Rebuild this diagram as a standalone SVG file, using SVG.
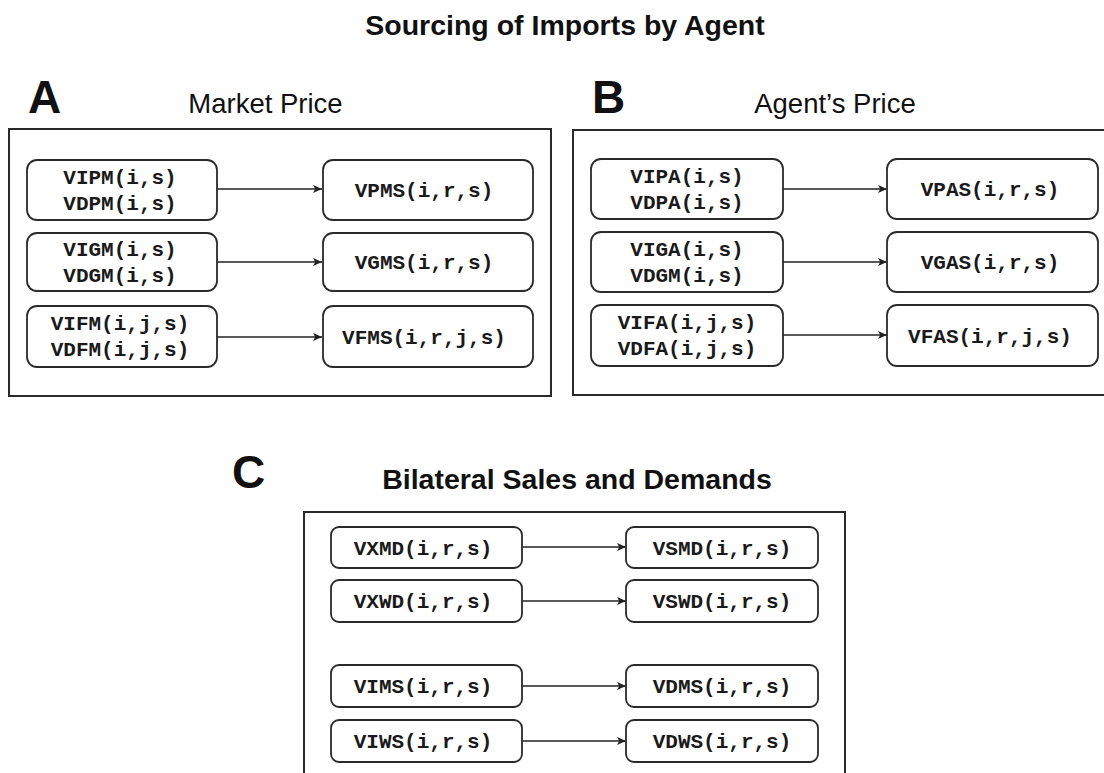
<svg xmlns="http://www.w3.org/2000/svg" width="1104" height="773" viewBox="0 0 1104 773">
<style>
.panel{fill:#fff;stroke:#2a2a2a;stroke-width:2}
.node{fill:#fff;stroke:#2a2a2a;stroke-width:1.8}
.t{font-family:"Liberation Mono","Courier New",monospace;font-weight:bold;font-size:21px;fill:#1a1a1a;text-anchor:middle}
.h{font-family:"Liberation Sans",Arial,sans-serif;fill:#111}
.edge{stroke:#222;stroke-width:1.6;fill:none;marker-end:url(#ah)}
</style>
<defs>
<marker id="ah" viewBox="0 0 10 10" refX="10" refY="5" markerWidth="10" markerHeight="9" markerUnits="userSpaceOnUse" orient="auto"><path d="M0,0.5 L10,5 L0,9.5 L2.5,5 z" fill="#222"/></marker>
</defs>
<rect width="1104" height="773" fill="#fff"/>
<text class="h" x="565" y="35" font-size="28.5" font-weight="bold" text-anchor="middle">Sourcing of Imports by Agent</text>
<text class="h" x="28" y="113" font-size="46" font-weight="bold">A</text>
<text class="h" x="265.5" y="113" font-size="27.5" text-anchor="middle">Market Price</text>
<text class="h" x="592" y="113" font-size="46" font-weight="bold">B</text>
<text class="h" x="835" y="113" font-size="27.5" text-anchor="middle">Agent’s Price</text>
<text class="h" x="232" y="488" font-size="46" font-weight="bold">C</text>
<text class="h" x="577" y="489" font-size="28.5" font-weight="bold" text-anchor="middle">Bilateral Sales and Demands</text>
<g id="panelA"><rect class="panel" x="9" y="129" width="542" height="267"/></g>
<g id="panelB"><rect class="panel" x="573" y="130" width="540" height="265"/></g>
<g id="panelC"><rect class="panel" x="304" y="512" width="541" height="290"/></g>
<g id="connectors">
<line class="edge" x1="217" y1="189" x2="322" y2="189"/>
<line class="edge" x1="217" y1="262" x2="322" y2="262"/>
<line class="edge" x1="217" y1="337" x2="322" y2="337"/>
<line class="edge" x1="783" y1="189" x2="887" y2="189"/>
<line class="edge" x1="783" y1="262" x2="887" y2="262"/>
<line class="edge" x1="783" y1="335" x2="887" y2="335"/>
<line class="edge" x1="522" y1="547" x2="626" y2="547"/>
<line class="edge" x1="522" y1="601" x2="626" y2="601"/>
<line class="edge" x1="522" y1="686" x2="626" y2="686"/>
<line class="edge" x1="522" y1="741" x2="626" y2="741"/>
</g>
<g id="VIPM"><rect class="node" x="27" y="160" width="190" height="60" rx="10"/><text class="t" x="120" y="184">VIPM(i,s)</text><text class="t" x="120" y="210">VDPM(i,s)</text></g>
<g id="VPMS"><rect class="node" x="323" y="160" width="210" height="60" rx="10"/><text class="t" x="424" y="197">VPMS(i,r,s)</text></g>
<g id="VIGM"><rect class="node" x="27" y="233" width="190" height="58" rx="10"/><text class="t" x="120" y="256">VIGM(i,s)</text><text class="t" x="120" y="282">VDGM(i,s)</text></g>
<g id="VGMS"><rect class="node" x="323" y="233" width="210" height="58" rx="10"/><text class="t" x="424" y="269">VGMS(i,r,s)</text></g>
<g id="VIFM"><rect class="node" x="27" y="306" width="190" height="61" rx="10"/><text class="t" x="120" y="330">VIFM(i,j,s)</text><text class="t" x="120" y="356">VDFM(i,j,s)</text></g>
<g id="VFMS"><rect class="node" x="323" y="306" width="210" height="61" rx="10"/><text class="t" x="424" y="344">VFMS(i,r,j,s)</text></g>
<g id="VIPA"><rect class="node" x="591" y="159" width="192" height="60" rx="10"/><text class="t" x="687" y="183">VIPA(i,s)</text><text class="t" x="687" y="209">VDPA(i,s)</text></g>
<g id="VPAS"><rect class="node" x="887" y="159" width="211" height="60" rx="10"/><text class="t" x="990" y="196">VPAS(i,r,s)</text></g>
<g id="VIGA"><rect class="node" x="591" y="232" width="192" height="60" rx="10"/><text class="t" x="687" y="256">VIGA(i,s)</text><text class="t" x="687" y="282">VDGM(i,s)</text></g>
<g id="VGAS"><rect class="node" x="887" y="232" width="211" height="60" rx="10"/><text class="t" x="990" y="269">VGAS(i,r,s)</text></g>
<g id="VIFA"><rect class="node" x="591" y="305" width="192" height="61" rx="10"/><text class="t" x="687" y="329">VIFA(i,j,s)</text><text class="t" x="687" y="355">VDFA(i,j,s)</text></g>
<g id="VFAS"><rect class="node" x="887" y="305" width="211" height="61" rx="10"/><text class="t" x="990" y="343">VFAS(i,r,j,s)</text></g>
<g id="VXMD"><rect class="node" x="331" y="527" width="191" height="41" rx="8"/><text class="t" x="423" y="555">VXMD(i,r,s)</text></g>
<g id="VSMD"><rect class="node" x="626" y="527" width="192" height="41" rx="8"/><text class="t" x="722" y="555">VSMD(i,r,s)</text></g>
<g id="VXWD"><rect class="node" x="331" y="580" width="191" height="42" rx="8"/><text class="t" x="423" y="608">VXWD(i,r,s)</text></g>
<g id="VSWD"><rect class="node" x="626" y="580" width="192" height="42" rx="8"/><text class="t" x="722" y="608">VSWD(i,r,s)</text></g>
<g id="VIMS"><rect class="node" x="331" y="665" width="191" height="42" rx="8"/><text class="t" x="423" y="693">VIMS(i,r,s)</text></g>
<g id="VDMS"><rect class="node" x="626" y="665" width="192" height="42" rx="8"/><text class="t" x="722" y="693">VDMS(i,r,s)</text></g>
<g id="VIWS"><rect class="node" x="331" y="720" width="191" height="42" rx="8"/><text class="t" x="423" y="748">VIWS(i,r,s)</text></g>
<g id="VDWS"><rect class="node" x="626" y="720" width="192" height="42" rx="8"/><text class="t" x="722" y="748">VDWS(i,r,s)</text></g>
</svg>
